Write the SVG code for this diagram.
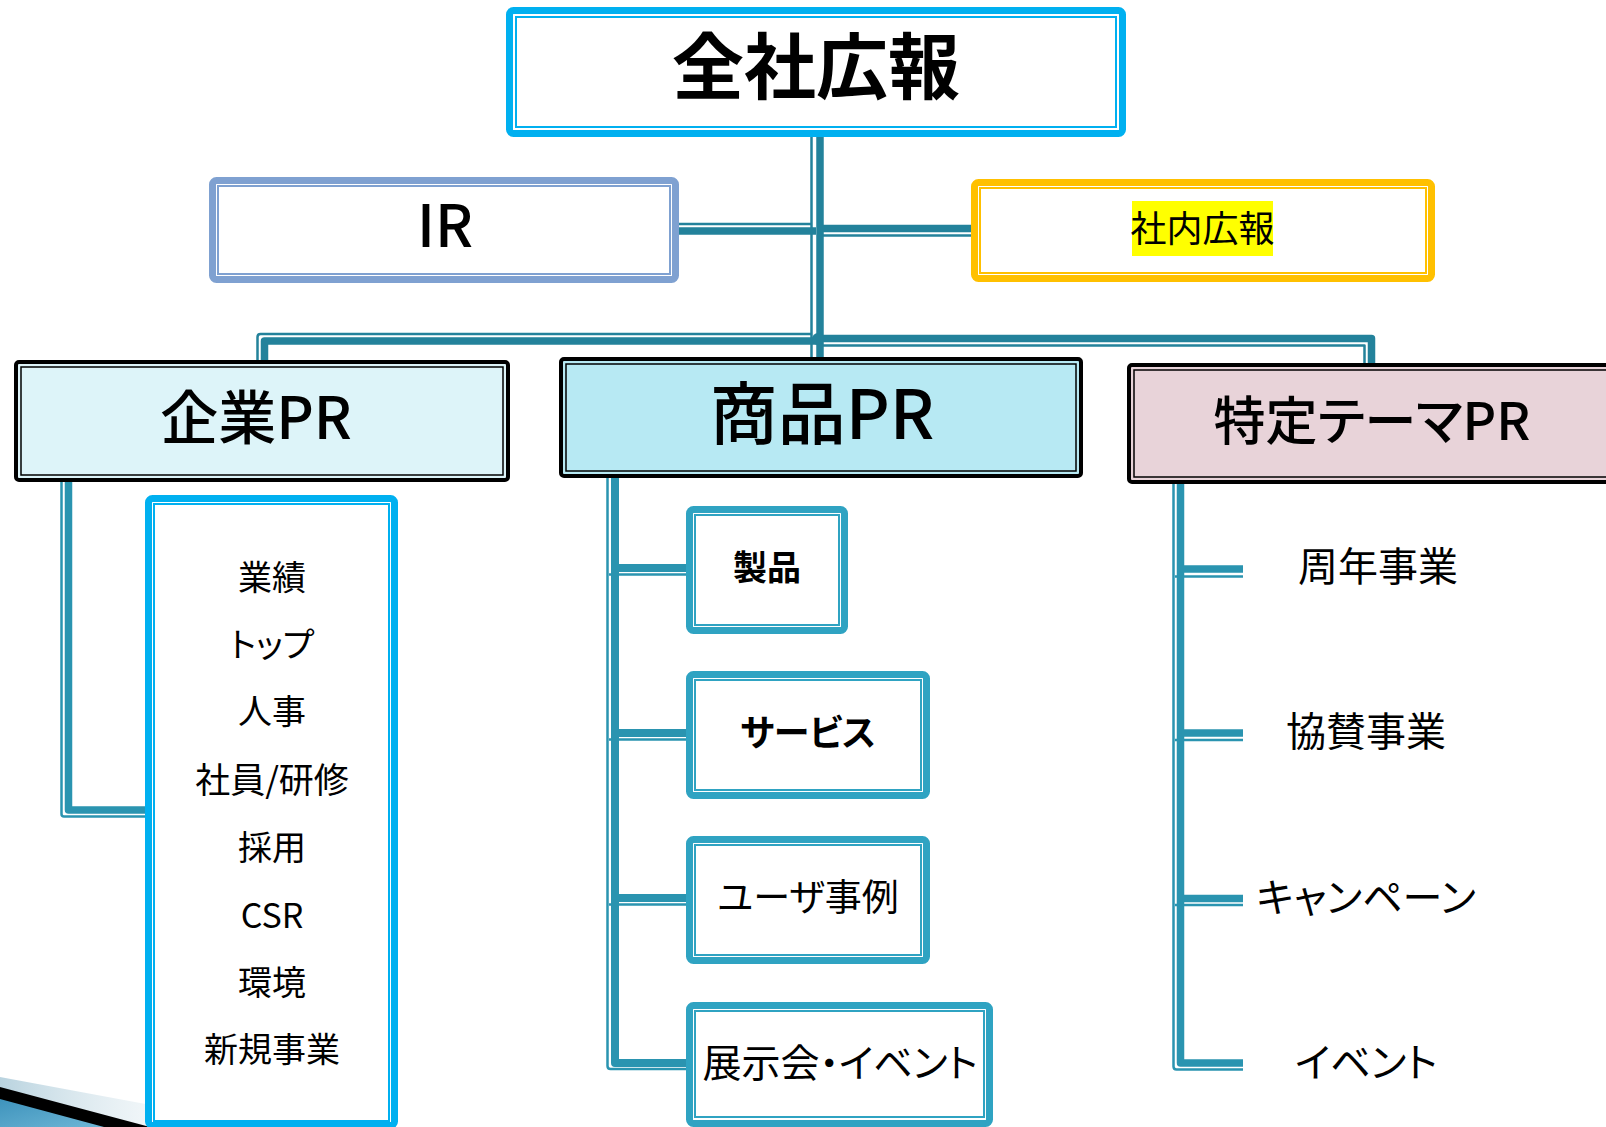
<svg xmlns="http://www.w3.org/2000/svg" width="1606" height="1127" viewBox="0 0 1606 1127">
<defs>
<linearGradient id="fade" x1="0" y1="0" x2="1" y2="0">
<stop offset="0" stop-color="#B9D3DF"/>
<stop offset="1" stop-color="#FFFFFF" stop-opacity="0"/>
</linearGradient>
<linearGradient id="blue" x1="0" y1="0" x2="1" y2="1">
<stop offset="0" stop-color="#3E93BC"/>
<stop offset="1" stop-color="#6DB6D6"/>
</linearGradient>
</defs>
<style>
.t{font-family:"Noto Sans CJK JP","Noto Sans",sans-serif;text-anchor:middle;dominant-baseline:central;fill:#000}
.p{font-feature-settings:"palt"}
.b{font-weight:bold}
.m{font-weight:500}
.o{fill:#fff;stroke-width:7}
.i{fill:none;stroke-width:2}
.cy{stroke:#00B0F0}
.tl{stroke:#2FA3C2}
.hb{stroke:#000;stroke-width:4}
.hi{fill:none;stroke:#000;stroke-width:1.5}
.c1{fill:none;stroke:#23829B;stroke-linejoin:round}
.c2{fill:none;stroke:#2A94B0;stroke-linejoin:round}
.k{stroke-width:7.5}
.n{stroke-width:2.5}
</style>
<rect width="1606" height="1127" fill="#fff"/>
<g id="decoration">
<polygon points="0,1077 270,1127 0,1127" fill="url(#fade)"/>
<polygon points="0,1087 150,1127 0,1127" fill="#000"/>
<polygon points="0,1099 104,1127 0,1127" fill="url(#blue)"/>
</g>
<g id="connectors">
<path class="c1 k" d="M820 137V357"/>
<path class="c1 n" d="M811.5 137V357"/>
<path class="c1 k" d="M679 231H816"/>
<path class="c1 n" d="M679 224H812"/>
<path class="c1 k" d="M820 228.5H971"/>
<path class="c1 n" d="M820 235.5H971"/>
<path class="c1 k" d="M264.5 363V341H818"/>
<path class="c1 n" d="M257.5 363V337Q257.5 334 260.5 334H812"/>
<path class="c1 k" d="M818 338.5H1371.5V365"/>
<path class="c1 n" d="M822 345.5H1364.5V365"/>
<circle cx="818" cy="339" r="6" fill="#23829B"/>
<path class="c2 k" d="M68.5 482V810H146"/>
<path class="c2 n" d="M61.5 482V814Q61.5 816.5 64 816.5H146"/>
<path class="c2" stroke-width="8" d="M615 478V1063H686"/>
<path class="c2 n" d="M607.5 478V1066Q607.5 1069 610.5 1069H686"/>
<path class="c2" stroke-width="8" d="M615 568H686M615 733H686M615 898H686"/>
<path class="c2 n" d="M609 574.5H686M609 739.5H686M609 904.5H686"/>
<path class="c2 k" d="M1180.5 484V1063H1243"/>
<path class="c2 n" d="M1173.5 484V1066.5Q1173.5 1069.5 1176.5 1069.5H1243"/>
<path class="c2 k" d="M1180.5 569H1243M1180.5 733H1243M1180.5 898.5H1243"/>
<path class="c2 n" d="M1175 576.5H1243M1175 740H1243M1175 905H1243"/>
</g>
<g id="zensha">
<rect class="o cy" x="509.5" y="10.5" width="613" height="123" rx="4"/>
<rect class="i cy" x="516" y="17" width="600" height="110"/>
<text class="t b" x="816" y="61" font-size="72">全社広報</text>
</g>
<g id="ir">
<rect class="o" stroke="#7FA1D1" x="212.5" y="180.5" width="463" height="99" rx="4"/>
<rect class="i" stroke="#7FA1D1" x="218" y="186" width="452" height="88"/>
<text class="t m" x="445" y="222" font-size="58">IR</text>
</g>
<g id="shanai">
<rect class="o" stroke="#FFC000" x="974.5" y="182.5" width="457" height="96" rx="4"/>
<rect class="i" stroke="#FFC000" x="980" y="188" width="446" height="85"/>
<rect x="1132" y="201" width="141" height="55" fill="#FFFF00"/>
<text class="t" x="1202.5" y="226" font-size="36">社内広報</text>
</g>
<g id="kigyo">
<rect class="hb" fill="#DDF4F9" x="16" y="362" width="492" height="118" rx="3"/>
<rect class="hi" x="21" y="367" width="482" height="108"/>
<text class="t m" x="256" y="414" font-size="58">企業PR</text>
</g>
<g id="shohin">
<rect class="hb" fill="#B7E9F3" x="561" y="359" width="520" height="117" rx="3"/>
<rect class="hi" x="566" y="364" width="510" height="107"/>
<text class="t m" x="822" y="409" font-size="68">商品PR</text>
</g>
<g id="tokutei">
<rect class="hb" fill="#E8D3D9" x="1129" y="365" width="500" height="117" rx="3"/>
<rect class="hi" x="1134" y="370" width="500" height="107"/>
<text class="t p m" x="1372" y="417" font-size="52">特定テーマPR</text>
</g>
<g id="kigyo-list">
<rect class="o cy" x="148.5" y="498.5" width="246" height="627" rx="4"/>
<rect class="i cy" x="154" y="504" width="235" height="617"/>
<text class="t" x="272" y="575" font-size="34">業績</text>
<text class="t p" x="272" y="642" font-size="34">トップ</text>
<text class="t" x="272" y="709" font-size="34">人事</text>
<text class="t" x="272" y="777" font-size="35">社員/研修</text>
<text class="t" x="272" y="845" font-size="34">採用</text>
<text class="t" x="272" y="913" font-size="34">CSR</text>
<text class="t" x="272" y="980" font-size="34">環境</text>
<text class="t" x="272" y="1047" font-size="34">新規事業</text>
</g>
<g id="seihin">
<rect class="o tl" x="689.5" y="509.5" width="155" height="121" rx="4"/>
<rect class="i tl" x="695" y="515" width="144" height="110"/>
<text class="t b" x="767" y="565" font-size="34">製品</text>
</g>
<g id="service">
<rect class="o tl" x="689.5" y="674.5" width="237" height="121" rx="4"/>
<rect class="i tl" x="695" y="680" width="226" height="110"/>
<text class="t b p" x="808" y="730" font-size="36">サービス</text>
</g>
<g id="user">
<rect class="o tl" x="689.5" y="839.5" width="237" height="121" rx="4"/>
<rect class="i tl" x="695" y="845" width="226" height="110"/>
<text class="t p" x="808" y="895" font-size="37">ユーザ事例</text>
</g>
<g id="tenji">
<rect class="o tl" x="689.5" y="1005.5" width="300" height="118" rx="4"/>
<rect class="i tl" x="695" y="1011" width="289" height="106"/>
<text class="t p" x="840" y="1060" font-size="39">展示会・イベント</text>
</g>
<g id="shunen"><text class="t" x="1378" y="564" font-size="40">周年事業</text></g>
<g id="kyosan"><text class="t" x="1366" y="729" font-size="40">協賛事業</text></g>
<g id="campaign"><text class="t p" x="1366" y="895" font-size="40">キャンペーン</text></g>
<g id="event"><text class="t p" x="1366" y="1060" font-size="40">イベント</text></g>
</svg>
